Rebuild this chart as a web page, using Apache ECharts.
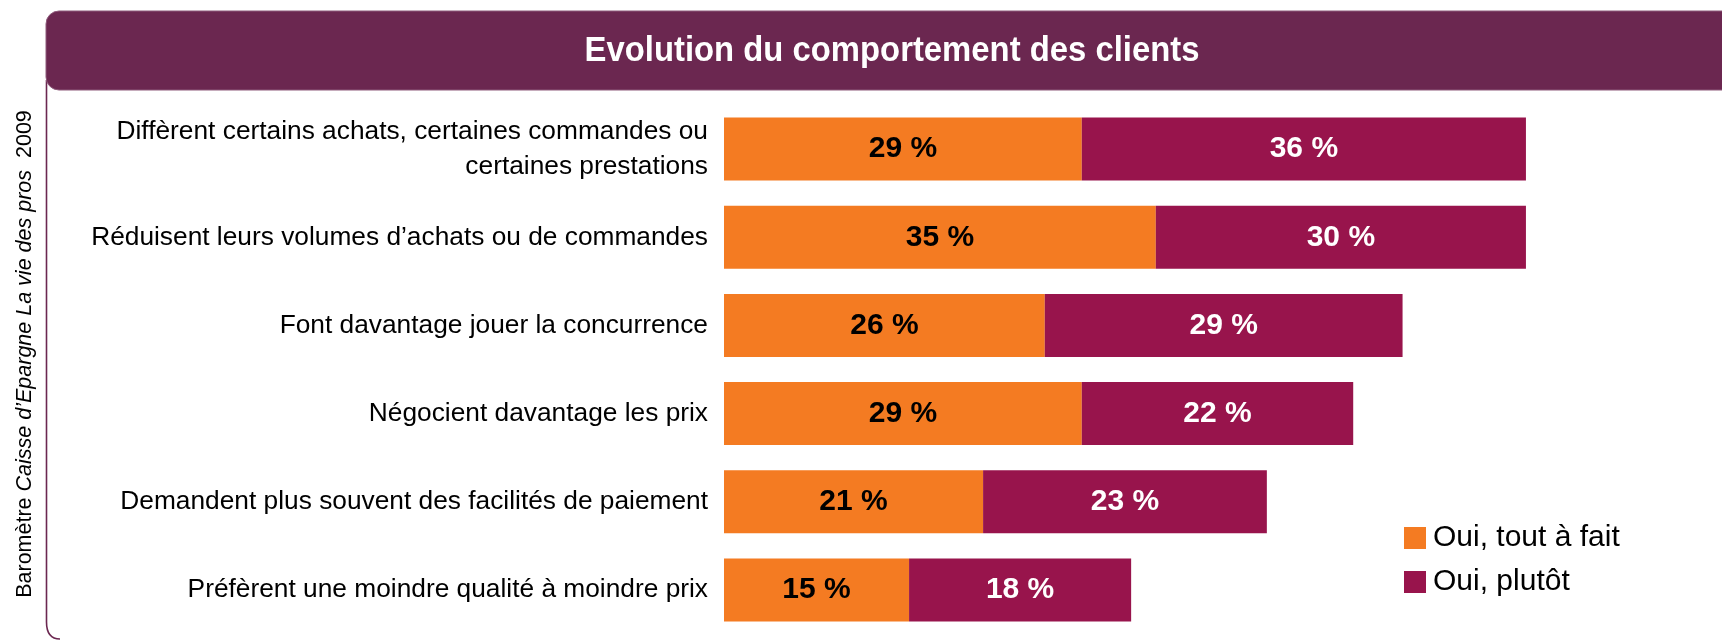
<!DOCTYPE html>
<html>
<head>
<meta charset="utf-8">
<script src="https://cdn.jsdelivr.net/npm/echarts@6/dist/echarts.min.js"></script>
<style>
html,body{margin:0;padding:0;background:#fff;}
#c{width:1722px;height:640px;}
</style>
</head>
<body>
<div id="c"></div>
<script>
const titleText = 'Evolution du comportement des clients';
const categories = [
  'Diffèrent certains achats, certaines commandes ou\ncertaines prestations',
  'Réduisent leurs volumes d’achats ou de commandes',
  'Font davantage jouer la concurrence',
  'Négocient davantage les prix',
  'Demandent plus souvent des facilités de paiement',
  'Préfèrent une moindre qualité à moindre prix'
];
const seriesNames = ['Oui, tout à fait', 'Oui, plutôt'];
const toutAFait = [29, 35, 26, 29, 21, 15];
const plutot = [36, 30, 29, 22, 23, 18];

const ORANGE = '#F47B22';
const PURPLE = '#98144C';
const DARK = '#6B2750';
const NARROW = "'Liberation Sans Narrow', 'Arial Narrow', 'Liberation Sans', Arial, sans-serif";
const SANS = "'Liberation Sans', Arial, sans-serif";

const chart = echarts.init(document.getElementById('c'), null, {renderer: 'canvas'});
chart.setOption({
  animation: false,
  backgroundColor: '#fff',
  grid: {left: 724, right: 11, top: 105, height: 529, containLabel: false},
  xAxis: {type: 'value', min: 0, max: 80, show: false},
  yAxis: {
    type: 'category', data: categories, inverse: true,
    axisLine: {show: false}, axisTick: {show: false}, splitLine: {show: false},
    axisLabel: {margin: 16, fontSize: 26.3, color: '#000', fontFamily: SANS, lineHeight: 35, align: 'right'}
  },
  legend: {
    orient: 'vertical', left: 1404, top: 523, padding: 0,
    itemWidth: 22, itemHeight: 22, itemGap: 14, icon: 'rect',
    data: seriesNames,
    textStyle: {fontSize: 30, color: '#000', fontFamily: SANS, padding: [0, 0, 0, 2]}
  },
  series: [
    {
      name: seriesNames[0], type: 'bar', stack: 's', data: toutAFait, barWidth: 63,
      itemStyle: {color: ORANGE},
      label: {show: true, position: 'inside', formatter: '{c} %', fontSize: 30, fontWeight: 'bold', color: '#000', fontFamily: NARROW}
    },
    {
      name: seriesNames[1], type: 'bar', stack: 's', data: plutot, barWidth: 63,
      itemStyle: {color: PURPLE},
      label: {show: true, position: 'inside', formatter: '{c} %', fontSize: 30, fontWeight: 'bold', color: '#fff', fontFamily: NARROW}
    }
  ],
  graphic: [
    {
      type: 'polyline', silent: true,
      shape: {points: [[46.5, 80], [46.5, 622]]},
      style: {fill: null, stroke: DARK, lineWidth: 1.6}
    },
    {
      type: 'bezierCurve', silent: true,
      shape: {x1: 46.5, y1: 622, cpx1: 46.5, cpy1: 639, x2: 60, y2: 639},
      style: {fill: null, stroke: DARK, lineWidth: 1.6}
    },
    {
      type: 'rect', silent: true,
      shape: {x: 46, y: 11, width: 1700, height: 79, r: [13, 0, 0, 13]},
      style: {fill: DARK, stroke: '#8E5A7B', lineWidth: 1}
    },
    {
      type: 'text', silent: true, x: 892, y: 51, scaleX: 0.925,
      style: {text: titleText, fill: '#fff', font: 'bold 35.5px ' + SANS, align: 'center', verticalAlign: 'middle'}
    },
    {
      type: 'text', silent: true, x: 25, y: 354, rotation: Math.PI / 2,
      style: {
        text: '{n|Baromètre }{i|Caisse d’Epargne La vie des pros}{n|  2009}',
        align: 'center', verticalAlign: 'middle',
        rich: {
          n: {fontSize: 21.5, fontFamily: SANS, fill: '#000'},
          i: {fontSize: 21.5, fontFamily: SANS, fontStyle: 'italic', fill: '#000'}
        }
      }
    }
  ]
});
</script>
</body>
</html>
